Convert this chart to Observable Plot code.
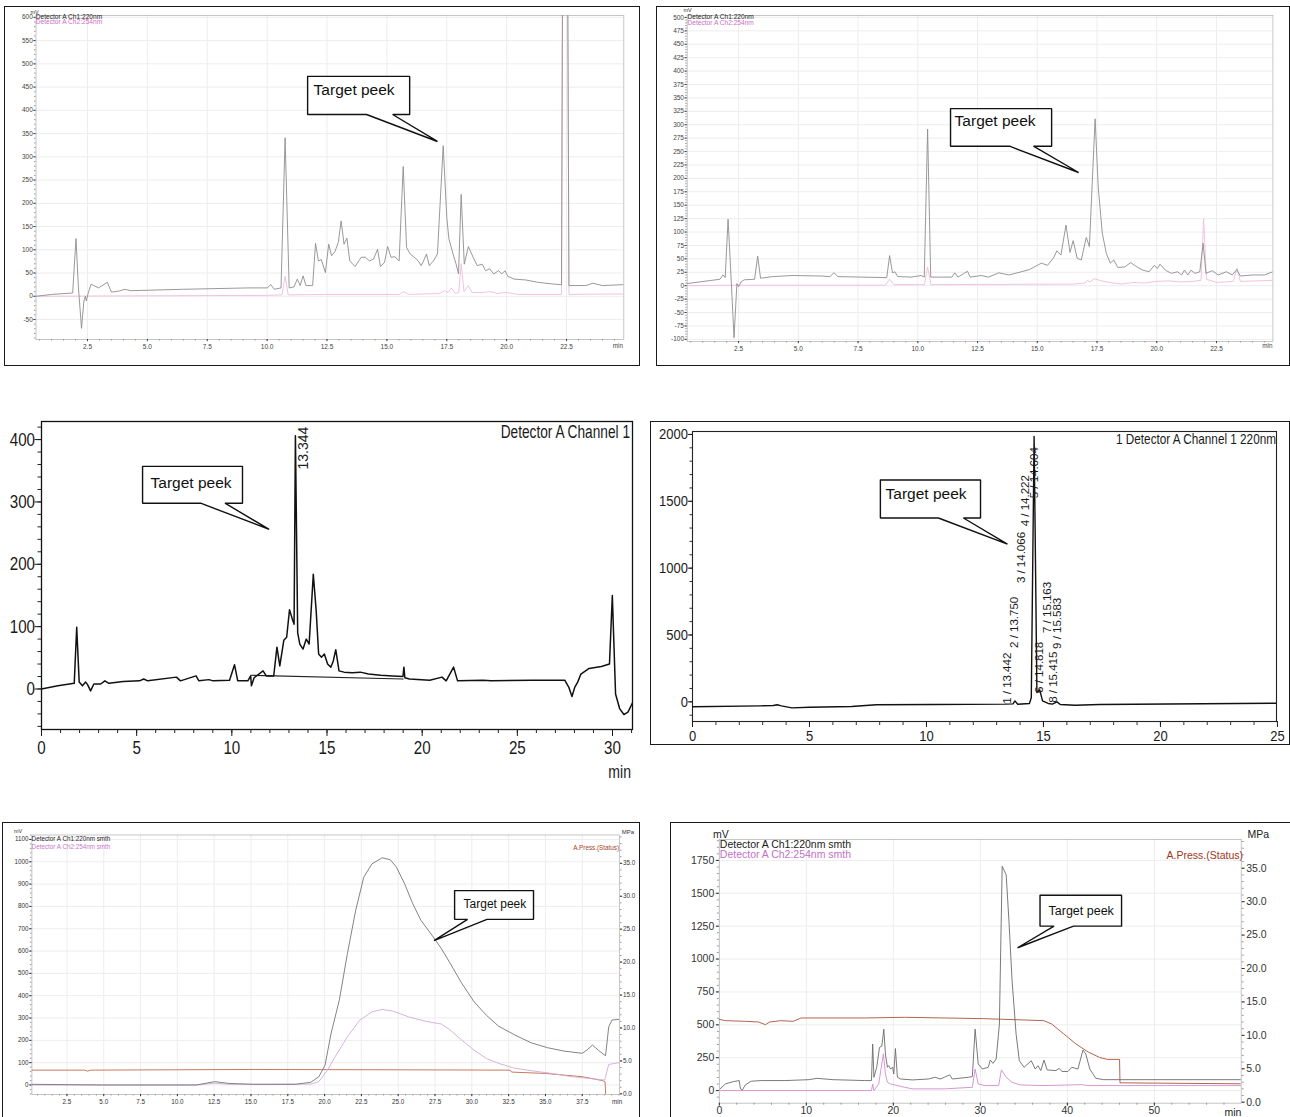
<!DOCTYPE html>
<html>
<head>
<meta charset="utf-8">
<script src="https://cdn.jsdelivr.net/npm/d3@7"></script>
<script src="https://cdn.jsdelivr.net/npm/@observablehq/plot@0.6"></script>
<style>
html,body{margin:0;padding:0;background:#fff;}
body{position:relative;width:1290px;height:1117px;overflow:hidden;}
.box{position:absolute;box-sizing:border-box;border:1.4px solid #1a1a1a;}
.lbl{position:absolute;white-space:nowrap;}
</style>
</head>
<body>
<script>
const SANS = "Arial, 'Liberation Sans', Helvetica, sans-serif";

// ---------------- Panel 1 (top-left) ----------------
const p1Ch1Time = [0.36,1.0,1.88,2.02,2.12,2.25,2.35,2.41,2.45,2.52,2.65,2.96,3.33,3.5,3.8,4.06,4.3,6.5,9.25,10.0,10.15,10.3,10.58,10.75,10.92,11.12,11.26,11.38,11.5,11.62,11.9,12.02,12.14,12.26,12.43,12.57,12.69,12.83,12.97,13.09,13.21,13.33,13.45,13.67,13.93,14.1,14.27,14.44,14.61,14.73,14.9,15.03,15.17,15.34,15.51,15.68,15.82,15.97,16.14,16.31,16.43,16.53,16.65,16.77,16.94,17.11,17.35,17.5,17.59,17.76,17.89,17.99,18.1,18.23,18.4,18.6,18.77,18.98,19.12,19.29,19.46,19.66,19.8,19.93,20.05,20.3,20.8,21.3,22.0,22.29,22.33,22.55,22.6,23.3,23.6,24.0,24.89];
const p1Ch1mV = [0,4,7,124,20,-69,-10,0,-10,5,26,18,30,9,11,15,12,15,18,18,25,15,18,341,18,20,37,23,44,23,23,114,76,79,51,112,87,96,116,162,112,125,76,64,84,84,76,80,101,64,73,107,84,85,76,279,105,91,84,76,66,76,91,66,76,91,324,169,123,91,69,48,219,69,107,84,66,69,55,59,48,55,48,55,43,37,35,30,26,25,650,650,23,23,28,23,25];
const p1Ch2Time = [0.36,10.0,10.62,10.75,10.88,12.5,15.5,15.7,15.9,17.2,17.4,17.55,17.7,17.85,18.0,18.1,18.22,18.4,18.55,19.0,19.3,19.6,20.0,20.5,22.29,22.33,22.55,22.6,24.89];
const p1Ch2mV = [0,2,3,43,3,4,4,10,4,6,12,8,18,6,8,70,10,23,8,8,10,6,8,4,4,650,650,4,5];
const p1XTicks = [2.5,5,7.5,10,12.5,15,17.5,20,22.5];
const p1YTicks = [-50,0,50,100,150,200,250,300,350,400,450,500,550,600];
const p1Callout = {x1:11.69,x2:15.95,top:473,bottom:391,base1:14.15,base2:15.24,tipX:17.11,tipY:333,textX:11.94,textY:443};

// ---------------- Panel 2 (top-right) ----------------
const p2Ch1Time = [0.35,1.72,1.85,1.94,2.06,2.18,2.31,2.43,2.5,2.6,2.74,3.17,3.3,3.42,3.93,4.78,5.97,6.32,6.49,6.66,8.7,8.82,8.94,9.04,9.16,9.72,10.15,10.27,10.41,10.54,11.43,11.55,11.68,12.08,12.19,12.65,12.96,13.39,13.82,14.33,14.67,15.17,15.43,15.68,15.82,15.99,16.2,16.37,16.5,16.67,16.84,17.05,17.18,17.42,17.55,17.72,17.89,18.06,18.2,18.37,18.66,18.91,19.17,19.42,19.68,19.9,20.02,20.14,20.36,20.61,20.87,21.04,21.16,21.3,21.43,21.6,21.8,21.94,22.06,22.32,22.57,22.91,23.16,23.35,23.5,24.0,24.5,24.86];
const p2Ch1mV = [4,12,20,15,124,20,-97,4,-2,7,11,12,55,14,17,19,18,17,24,17,15,56,24,26,17,16,19,16,292,16,16,24,16,27,16,19,16,24,20,26,30,42,38,52,65,57,113,62,84,51,48,90,73,311,184,98,60,42,48,34,35,43,35,29,26,38,32,40,29,23,26,20,29,20,29,23,26,79,23,28,20,26,20,30,18,20,20,26];
const p2Ch2Time = [0.35,2.0,8.65,8.82,9.0,10.28,10.41,10.55,16.5,17.0,17.1,17.2,17.4,17.6,18.0,18.5,19.0,19.5,20.0,20.5,21.0,21.5,21.85,21.96,22.08,22.5,23.2,23.36,23.5,24.86];
const p2Ch2mV = [0,1,1,12,2,2,35,2,3,5,10,7,13,10,6,3,6,5,8,9,7,8,10,125,12,6,8,33,8,10];
const p2XTicks = [2.5,5,7.5,10,12.5,15,17.5,20,22.5];
const p2YTicks = [-100,-75,-50,-25,0,25,50,75,100,125,150,175,200,225,250,275,300,325,350,375,400,425,450,475,500];
const p2Callout = {x1:11.37,x2:15.6,top:330,bottom:260,base1:13.84,base2:14.84,tipX:16.73,tipY:211,textX:11.54,textY:306};

// ---------------- Panel 3 (middle-left) ----------------
const p3Time = [0,0.86,1.72,1.85,1.98,2.15,2.32,2.42,2.58,2.75,3.11,3.33,3.54,4.29,5.15,5.37,5.58,7.09,7.3,8.12,8.27,8.8,9.02,9.88,10.14,10.31,10.84,10.99,11.03,11.17,11.64,11.81,12.2,12.37,12.52,12.73,12.88,13.03,13.18,13.27,13.34,13.46,13.57,13.74,13.91,14.06,14.28,14.43,14.56,14.71,14.86,15.03,15.2,15.33,15.46,15.63,15.89,16.32,16.75,17.18,17.82,18.46,18.99,19.04,19.09,19.33,20.4,21.04,21.26,21.65,21.86,23.19,23.62,25.77,27.49,27.7,27.87,28.02,28.17,28.34,28.77,29.41,29.84,29.99,30.16,30.38,30.6,30.81,31.09];
const p3mV = [0,5,9,99,11,5,11,7,-3,8,8,13,9,12,13,16,13,19,13,21,13,15,13,14,39,13,13,21,5,18,29,21,21,67,37,78,83,127,112,104,406,90,72,64,80,72,184,126,56,51,56,40,35,45,63,29,27,26,27,24,22,21,20,35,18,16,14,19,13,35,13,14,13,14,14,3,-12,3,11,24,33,36,40,150,-8,-32,-41,-37,-20];
const p3BaseTime = [11.0,19.0];
const p3BasemV = [22,16];
const p3XTicks = [0,5,10,15,20,25,30];
const p3YTicks = [0,100,200,300,400];
const p3PeakText = ["13.344"];
const p3PeakTime = [13.344];
const p3PeakLabelBase = [352];
const p3Callout = {x1:5.31,x2:10.56,top:357,bottom:298,base1:8.36,base2:9.64,tipX:11.96,tipY:256,textX:5.73,textY:330};

// ---------------- Panel 4 (middle-right) ----------------
const p4Time = [0,2.92,3.45,3.62,3.8,4.25,5.0,6.8,7.86,10.3,13.35,13.7,13.78,13.9,14.4,14.48,14.6,14.72,14.84,14.96,15.2,15.38,15.58,15.72,16.35,17.4,25];
const p4mV = [-37,-30,-27,-22,-30,-45,-40,-35,-22,-20,-17,-15,7,-18,-12,30,1985,70,90,7,-12,-17,0,-20,-25,-20,-10];
const p4PeakText = ["1 / 13.442","2 / 13.750","3 / 14.066","4 / 14.222","5 / 14.604","6 / 14.818","7 / 15.163","8 / 15.415","9 / 15.583"];
const p4PeakTime = [13.442,13.750,14.066,14.222,14.604,14.818,15.163,15.415,15.583];
const p4PeakLabelBase = [-15,403,888,1313,1522,67,515,-7,396];
const p4XTicks = [0,5,10,15,20,25];
const p4YTicks = [0,500,1000,1500,2000];
const p4Callout = {x1:8.03,x2:12.31,top:1659,bottom:1375,base1:10.51,base2:11.58,tipX:13.46,tipY:1180,textX:8.25,textY:1554};

// ---------------- Panel 5 (bottom-left) ----------------
const p5Ch1Time = [0.12,5,11.29,12.54,13.51,15.17,18,19.06,19.61,20.03,20.44,21.0,21.55,22.11,22.66,23.22,23.91,24.46,24.88,25.43,25.99,26.54,27.38,27.93,28.48,29.32,30.15,30.98,31.81,32.92,34.03,35.14,36.25,37.5,37.83,38.19,38.61,39.08,39.3,39.52,40.0];
const p5Ch1mV = [3,0,0,15,7,3,3,12,37,89,231,380,589,782,931,991,1018,1009,976,902,812,738,663,611,551,455,373,313,264,224,189,167,152,142,157,179,155,131,261,291,294];
const p5Ch2Time = [0.12,11.3,12.54,13.5,19.06,19.61,20.17,20.72,21.55,22.38,23.22,23.91,24.6,25.71,26.82,27.93,28.48,29.32,30.15,30.98,31.81,32.92,34.03,35.42,36.8,37.91,39.02,39.3,40.0];
const p5Ch2mV = [0,0,8,3,4,15,64,127,216,290,328,338,332,305,286,273,249,201,156,119,97,75,64,52,37,30,22,92,100];
const p5PressTime = [0.12,3.7,3.9,4.1,15,25,32.6,32.7,35,37.5,38.9,39.05,39.1];
const p5PressMPa = [3.6,3.6,3.45,3.6,3.7,3.65,3.6,3.3,3.1,2.6,2.0,1.8,-0.5];
const p5XTicks = [2.5,5,7.5,10,12.5,15,17.5,20,22.5,25,27.5,30,32.5,35,37.5];
const p5YTicks = [0,100,200,300,400,500,600,700,800,900,1000,1100];
const p5RTicks = [0,5,10,15,20,25,30,35];
const p5Callout = {x1:28.83,x2:34.19,top:871,bottom:742,base1:29.71,base2:31.03,tipX:27.43,tipY:647,textX:29.44,textY:809};

// ---------------- Panel 6 (bottom-right) ----------------
const p6Ch1Time = [0.09,0.69,1.6,2.29,2.43,2.66,2.98,3.66,4.81,7.55,10.3,11.22,13.05,16.71,17.49,17.63,17.77,18.09,18.41,18.68,18.91,19.09,19.32,19.46,19.69,19.92,20.05,20.24,20.47,20.83,22.21,24.04,24.8,25.4,25.87,26.47,26.79,28.62,29.08,29.4,29.76,30.22,30.91,31.14,31.46,31.82,32.19,32.51,32.97,33.29,33.65,34.11,34.48,35.03,35.85,36.31,36.63,36.95,37.32,37.68,38.69,39.06,39.38,40.06,40.52,41.21,41.8,42.12,42.58,43.27,44.18,60];
const p6Ch1mV = [13,50,68,76,13,5,43,71,76,76,83,93,83,76,76,354,101,177,328,338,467,278,177,189,164,177,126,320,101,88,81,88,101,88,101,119,88,101,106,467,202,164,177,232,207,240,505,1705,1641,1288,833,429,227,177,227,164,189,152,232,157,152,169,145,145,177,164,308,278,164,93,83,83];
const p6Ch2Time = [0.09,17.49,17.63,17.77,18.32,18.86,19.09,19.32,19.69,21.3,22.2,25.87,29.08,29.4,29.76,30.5,32.1,32.42,32.97,33.65,34.57,37.3,41.7,42.3,60];
const p6Ch2mV = [0,0,50,0,50,280,126,63,50,25,13,13,25,164,50,38,38,157,101,63,43,38,45,38,38];
const p6PressTime = [0,0.69,2.98,4.5,5.3,5.8,7.1,8.5,9.4,16.7,21.3,30.4,35,37.3,38.2,39.6,41,42.4,43.7,44.6,46.0,46.05,60];
const p6PressMPa = [12.4,12.2,12.1,12.0,11.6,12.0,12.2,12.1,12.6,12.6,12.7,12.5,12.3,12.2,11.7,10.2,8.7,7.5,6.7,6.4,6.4,2.9,2.75];
const p6XTicks = [0,10,20,30,40,50];
const p6YTicks = [0,250,500,750,1000,1250,1500,1750];
const p6RTicks = [0,5,10,15,20,25,30,35];
const p6Callout = {x1:36.86,x2:46.23,top:1485,bottom:1250,base1:38.47,base2:40.71,tipX:34.28,tipY:1086,textX:37.84,textY:1364};

// ---------------- helpers ----------------
const pairs = (T, V) => T.map((t, i) => ({t, v: V[i]}));
const within = (arr, dom) => arr.filter(v => v >= dom[0] - 1e-9 && v <= dom[1] + 1e-9);
const steps = (a, b, s) => d3.range(Math.round(a / s), Math.round(b / s) + 1).map(k => +(k * s).toFixed(4));
const plain = d => String(d);

function box(l, t, w, h) {
  const d = document.createElement("div");
  d.className = "box";
  Object.assign(d.style, {left: l + "px", top: t + "px", width: w + "px", height: h + "px"});
  document.body.appendChild(d);
}
function label(text, x, y, o) {
  const d = document.createElement("div");
  d.className = "lbl";
  d.textContent = text;
  const s = o.size;
  d.style.font = `${o.weight || 400} ${s}px ${SANS}`;
  d.style.color = o.color || "#111";
  d.style.lineHeight = s + "px";
  d.style.top = (y - s / 2) + "px";
  d.style.left = x + "px";
  const a = o.anchor || "start";
  const sx = o.scaleX || 1;
  if (a === "end") { d.style.transform = `translateX(-100%) scaleX(${sx})`; d.style.transformOrigin = "100% 50%"; }
  else { d.style.transform = `scaleX(${sx})`; d.style.transformOrigin = "0% 50%"; }
  document.body.appendChild(d);
}
function mount(svg, l, t) {
  svg.style.position = "absolute";
  svg.style.left = l + "px";
  svg.style.top = t + "px";
  document.body.appendChild(svg);
}
// condensed look for the tick labels of the two black-and-white panels
function condense(svg, k) {
  d3.select(svg).selectAll("g[aria-label$='tick label'] text").each(function () {
    const el = d3.select(this);
    let tr = el.attr("transform");
    if (!tr) {
      const x = el.attr("x") || 0, y = el.attr("y") || 0;
      el.attr("x", null).attr("y", null);
      tr = `translate(${x},${y})`;
    }
    el.attr("transform", `${tr} scale(${k},1)`);
  });
}
function calloutMarks(c, fontSize) {
  const poly = [[c.x1,c.top],[c.x2,c.top],[c.x2,c.bottom],[c.base2,c.bottom],[c.tipX,c.tipY],[c.base1,c.bottom],[c.x1,c.bottom],[c.x1,c.top]];
  return [
    Plot.line(poly, {x: d => d[0], y: d => d[1], fill: "white", stroke: "#111", strokeWidth: 1.4, strokeLinejoin: "miter", curve: "linear"}),
    Plot.text([c], {x: d => d.textX, y: d => d.textY, text: () => "Target peek", textAnchor: "start", fontSize, fontFamily: SANS, fill: "#111"})
  ];
}

// ---------------- Shimadzu style (panels 1, 2) ----------------
function shimadzu(cfg) {
  return Plot.plot({
    width: cfg.width, height: cfg.height,
    marginLeft: cfg.m[0], marginRight: cfg.m[1], marginTop: cfg.m[2], marginBottom: cfg.m[3],
    x: {domain: cfg.xDom, axis: null},
    y: {domain: cfg.yDom, axis: null},
    style: {fontFamily: SANS, background: "transparent", overflow: "visible"},
    marks: [
      Plot.gridX(cfg.xTicks, {stroke: "#ededed", strokeOpacity: 1}),
      Plot.gridY(cfg.yTicks, {stroke: "#ededed", strokeOpacity: 1}),
      Plot.frame({stroke: "#b8b8b8", strokeWidth: 0.8}),
      Plot.axisY(within(cfg.yMinor, cfg.yDom), {tickSize: 1.5, tickFormat: () => "", color: "#9a9a9a", label: null}),
      Plot.axisY(cfg.yTicks, {tickSize: 2.2, tickPadding: 1, fontSize: cfg.fs, color: "#444", tickFormat: plain, label: null}),
      Plot.axisX(within(cfg.xMinor, cfg.xDom), {tickSize: 1.5, tickFormat: () => "", color: "#9a9a9a", label: null}),
      Plot.axisX(cfg.xTicks, {tickSize: 2.2, tickPadding: 3, fontSize: cfg.fs, color: "#444", tickFormat: d => d.toFixed(1), label: null}),
      Plot.line(cfg.ch2, {x: "t", y: "v", stroke: "#f0bcd8", strokeWidth: 0.9, clip: true}),
      Plot.line(cfg.ch1, {x: "t", y: "v", stroke: "#8d8d8d", strokeWidth: 0.9, clip: true}),
      ...calloutMarks(cfg.callout, 15.5)
    ]
  });
}

// Panel 1
box(4, 6, 636, 360);
mount(shimadzu({
  width: 636, height: 360, m: [31.5, 16.7, 9, 27],
  xDom: [0.35, 24.89], yDom: [-93, 604],
  xTicks: p1XTicks, yTicks: p1YTicks,
  xMinor: steps(0, 25, 0.5), yMinor: steps(-90, 600, 10),
  fs: 6.5,
  ch1: pairs(p1Ch1Time, p1Ch1mV), ch2: pairs(p1Ch2Time, p1Ch2mV),
  callout: p1Callout
}), 4, 6);
label("mV", 30.5, 12.5, {size: 5.5, color: "#333"});
label("Detector A Ch1:220nm", 35.8, 16.8, {size: 6.6, color: "#222"});
label("Detector A Ch2:254nm", 35.8, 22.2, {size: 6.6, color: "#d06ec8"});
label("min", 623, 345.7, {size: 6.3, color: "#444", anchor: "end"});

// Panel 2
box(656, 6, 634, 360);
mount(shimadzu({
  width: 634, height: 360, m: [30.7, 17.6, 9, 25],
  xDom: [0.35, 24.86], yDom: [-104, 503.6],
  xTicks: p2XTicks, yTicks: p2YTicks,
  xMinor: steps(0, 25, 0.5), yMinor: steps(-100, 500, 5),
  fs: 6.5,
  ch1: pairs(p2Ch1Time, p2Ch1mV), ch2: pairs(p2Ch2Time, p2Ch2mV),
  callout: p2Callout
}), 656, 6);
label("mV", 683.5, 11, {size: 5.5, color: "#333"});
label("Detector A Ch1:220nm", 687.5, 16.8, {size: 6.6, color: "#222"});
label("Detector A Ch2:254nm", 687.5, 22.8, {size: 6.6, color: "#d06ec8"});
label("min", 1272.4, 345.7, {size: 6.3, color: "#444", anchor: "end"});

// Panel 3
{
  const xDom = [0, 31.05], yDom = [-65, 429];
  const svg = Plot.plot({
    width: 645, height: 370, marginLeft: 41, marginRight: 13, marginTop: 11, marginBottom: 51,
    x: {domain: xDom, axis: null}, y: {domain: yDom, axis: null},
    style: {fontFamily: SANS, background: "transparent", overflow: "visible"},
    marks: [
      Plot.frame({stroke: "#111", strokeWidth: 1.3}),
      Plot.axisY(within(steps(-60, 420, 20), yDom), {tickSize: 3.5, tickFormat: () => "", color: "#222", label: null}),
      Plot.axisY(p3YTicks, {tickSize: 6.5, tickPadding: 0, fontSize: 18.5, color: "#1a1a1a", tickFormat: plain, label: null}),
      Plot.axisX(within(steps(0, 31, 1), xDom), {tickSize: 4, tickFormat: () => "", color: "#222", label: null}),
      Plot.axisX(p3XTicks, {tickSize: 7, tickPadding: 4.5, fontSize: 18.5, color: "#1a1a1a", tickFormat: plain, label: null}),
      Plot.line(pairs(p3BaseTime, p3BasemV), {x: "t", y: "v", stroke: "#222", strokeWidth: 1.1}),
      Plot.line(pairs(p3Time, p3mV), {x: "t", y: "v", stroke: "#111", strokeWidth: 1.5, clip: true}),
      Plot.text(p3PeakText.map((s, i) => ({s, t: p3PeakTime[i], v: p3PeakLabelBase[i]})), {x: "t", y: "v", text: "s", rotate: -90, textAnchor: "start", dx: 8, fontSize: 14, fontFamily: SANS, fill: "#222"}),
      ...calloutMarks(p3Callout, 15.5)
    ]
  });
  condense(svg, 0.82);
  mount(svg, 0, 410);
  label("Detector A Channel 1", 630, 431.7, {size: 18, color: "#1a1a1a", anchor: "end", scaleX: 0.76});
  label("min", 630.6, 771.5, {size: 18, color: "#1a1a1a", anchor: "end", scaleX: 0.78});
}

// Panel 4
{
  box(650, 421, 640, 324);
  const xDom = [0, 24.96], yDom = [-147, 2022];
  const svg = Plot.plot({
    width: 640, height: 324, marginLeft: 42, marginRight: 14, marginTop: 10, marginBottom: 24,
    x: {domain: xDom, axis: null}, y: {domain: yDom, axis: null},
    style: {fontFamily: SANS, background: "transparent", overflow: "visible"},
    marks: [
      Plot.frame({stroke: "#222", strokeWidth: 1.1}),
      Plot.axisY(within(steps(-100, 2000, 100), yDom), {tickSize: 2.5, tickFormat: () => "", color: "#333", label: null}),
      Plot.axisY(p4YTicks, {tickSize: 4, tickPadding: 0.5, fontSize: 15.5, color: "#1a1a1a", tickFormat: plain, label: null}),
      Plot.axisX(within(steps(0, 25, 1), xDom), {tickSize: 4, tickFormat: () => "", color: "#333", label: null}),
      Plot.axisX(p4XTicks, {tickSize: 6, tickPadding: 2, fontSize: 15.5, color: "#1a1a1a", tickFormat: plain, label: null}),
      Plot.line(pairs(p4Time, p4mV), {x: "t", y: "v", stroke: "#111", strokeWidth: 1.4, clip: true}),
      Plot.text(p4PeakText.map((s, i) => ({s, t: p4PeakTime[i], v: p4PeakLabelBase[i]})), {x: "t", y: "v", text: "s", rotate: -90, textAnchor: "start", fontSize: 11.5, fontFamily: SANS, fill: "#1a1a1a"}),
      ...calloutMarks(p4Callout, 15.5)
    ]
  });
  condense(svg, 0.84);
  mount(svg, 650, 421);
  label("1 Detector A Channel 1 220nm", 1275.5, 439, {size: 14.5, color: "#1a1a1a", anchor: "end", scaleX: 0.81});
}

// Dual-axis Shimadzu (panels 5, 6)
function dual(cfg) {
  const L = cfg.yDom, R = cfg.rDom;
  const toL = p => L[0] + (p - R[0]) * (L[1] - L[0]) / (R[1] - R[0]);
  const fromL = v => R[0] + (v - L[0]) * (R[1] - R[0]) / (L[1] - L[0]);
  return Plot.plot({
    width: cfg.width, height: cfg.height,
    marginLeft: cfg.m[0], marginRight: cfg.m[1], marginTop: cfg.m[2], marginBottom: cfg.m[3],
    x: {domain: cfg.xDom, axis: null}, y: {domain: L, axis: null},
    style: {fontFamily: SANS, background: "transparent", overflow: "visible"},
    marks: [
      Plot.gridX(cfg.xTicks, {stroke: "#ededed", strokeOpacity: 1}),
      Plot.gridY(cfg.yTicks, {stroke: "#ededed", strokeOpacity: 1}),
      Plot.frame({stroke: "#b8b8b8", strokeWidth: 0.8}),
      Plot.axisY(within(cfg.yMinor, L), {tickSize: cfg.minor, tickFormat: () => "", color: "#9a9a9a", label: null}),
      Plot.axisY(cfg.yTicks, {tickSize: cfg.major, tickPadding: cfg.pad, fontSize: cfg.fs, color: "#333", tickFormat: plain, label: null}),
      Plot.axisY(within(cfg.rMinor, R).map(toL), {anchor: "right", tickSize: cfg.minor, tickFormat: () => "", color: "#9a9a9a", label: null}),
      Plot.axisY(cfg.rTicks.map(toL), {anchor: "right", tickSize: cfg.major, tickPadding: cfg.pad, fontSize: cfg.fs, color: "#333", tickFormat: d => fromL(d).toFixed(1), label: null}),
      Plot.axisX(within(cfg.xMinor, cfg.xDom), {tickSize: cfg.minor, tickFormat: () => "", color: "#9a9a9a", label: null}),
      Plot.axisX(cfg.xTicks, {tickSize: cfg.major, tickPadding: cfg.xpad, fontSize: cfg.fs, color: "#333", tickFormat: cfg.xFmt, label: null}),
      Plot.line(cfg.press, {x: "t", y: d => toL(d.v), stroke: cfg.pressColor, strokeWidth: 0.9, clip: true}),
      Plot.line(cfg.ch2, {x: "t", y: "v", stroke: cfg.ch2Color, strokeWidth: 0.9, clip: true}),
      Plot.line(cfg.ch1, {x: "t", y: "v", stroke: cfg.ch1Color, strokeWidth: 0.9, clip: true}),
      ...calloutMarks(cfg.callout, cfg.cfs)
    ]
  });
}

// Panel 5
box(2, 822, 638, 320);
mount(dual({
  width: 638, height: 295, m: [29.4, 21, 12.5, 23],
  xDom: [0.12, 40.03], yDom: [-42.6, 1120], rDom: [-0.1, 39.3],
  xTicks: p5XTicks, yTicks: p5YTicks, rTicks: p5RTicks,
  xMinor: steps(0, 40, 0.5), yMinor: steps(-40, 1120, 20), rMinor: steps(0, 39, 1),
  major: 2.2, minor: 1.5, pad: 1.2, xpad: 3, fs: 6.3, xFmt: d => d.toFixed(1),
  press: pairs(p5PressTime, p5PressMPa), ch1: pairs(p5Ch1Time, p5Ch1mV), ch2: pairs(p5Ch2Time, p5Ch2mV),
  pressColor: "#bf6a4e", ch1Color: "#767676", ch2Color: "#d2abd5",
  callout: p5Callout, cfs: 12
}), 2, 822);
label("mV", 14, 832, {size: 5.5, color: "#333"});
label("Detector A Ch1:220nm smth", 31.6, 839.3, {size: 6.3, color: "#222"});
label("Detector A Ch2:254nm smth", 31.6, 847.3, {size: 6.3, color: "#c978c8"});
label("A.Press.(Status)", 619, 848.5, {size: 6.3, color: "#a8401f", anchor: "end"});
label("MPa", 621.8, 831.7, {size: 6, color: "#333"});
label("min", 612, 1101.7, {size: 6.3, color: "#333"});

// Panel 6
box(670, 822, 621, 320);
mount(dual({
  width: 622, height: 295, m: [50.8, 49.3, 17, 14.3],
  xDom: [0, 59.98], yDom: [-96, 1909], rDom: [-0.15, 39.3],
  xTicks: p6XTicks, yTicks: p6YTicks, rTicks: p6RTicks,
  xMinor: steps(0, 60, 2), yMinor: steps(-50, 1900, 50), rMinor: steps(0, 39, 1),
  major: 3, minor: 2, pad: 2, xpad: 0.5, fs: 10.5, xFmt: plain,
  press: pairs(p6PressTime, p6PressMPa), ch1: pairs(p6Ch1Time, p6Ch1mV), ch2: pairs(p6Ch2Time, p6Ch2mV),
  pressColor: "#a9543a", ch1Color: "#6b6b6b", ch2Color: "#d08cd0",
  callout: p6Callout, cfs: 12.5
}), 668, 822);
label("mV", 713, 834, {size: 10.5, color: "#222"});
label("Detector A Ch1:220nm smth", 719.8, 844.4, {size: 10.5, color: "#1a1a1a"});
label("Detector A Ch2:254nm smth", 719.8, 854.6, {size: 10.5, color: "#c56fc8"});
label("A.Press.(Status)", 1243, 855.5, {size: 10.5, color: "#a3341c", anchor: "end"});
label("MPa", 1247.5, 834, {size: 10.5, color: "#222"});
label("min", 1224.5, 1112.5, {size: 10.5, color: "#222"});
</script>
</body>
</html>
